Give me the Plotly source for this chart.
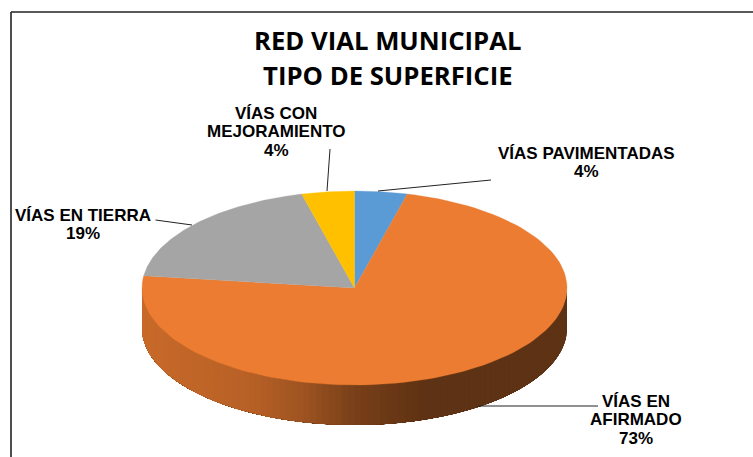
import numpy as np
import plotly.graph_objects as go

categories = ["VÍAS PAVIMENTADAS", "VÍAS EN AFIRMADO", "VÍAS EN TIERRA", "VÍAS CON MEJORAMIENTO"]
label_lines = [["VÍAS PAVIMENTADAS"], ["VÍAS EN", "AFIRMADO"], ["VÍAS EN TIERRA"], ["VÍAS CON", "MEJORAMIENTO"]]
values = [4, 73, 19, 4]
colors = ["#5B9BD5", "#EB7C31", "#A5A5A5", "#FFC000"]
title_lines = ["RED VIAL MUNICIPAL", "TIPO DE SUPERFICIE"]

W, H = 753, 457
CX, CY, RX, RY, DEPTH = 354.5, 288, 212.5, 97, 40
label_pos = [(586, 153), (636, 401), (83, 215), (276, 113)]
LINE_STEP = 18.7
leaders = [((378, 191), (491, 180)), ((478, 406), (598, 406)),
           ((155.5, 220), (192, 225)), ((327, 191), (330, 149))]

total = sum(values)
edges = np.concatenate([[0], np.cumsum(values)]) / total * 2 * np.pi


def ex(t):
    return CX + RX * np.sin(t)


def ey(t):
    return CY - RY * np.cos(t)


def rgb(h):
    return np.array([int(h[i:i + 2], 16) for i in (1, 3, 5)], float)


def shade(x):
    return np.interp(x, [142, 250, 300, 355, 425, 567], [0.85, 0.78, 0.68, 0.51, 0.40, 0.40])


fig = go.Figure()

# side wall: the visible front half of the disc, strips painted from the right end to the
# left end, each one reaching all the way to the left end so that no seams can show
for i, c in enumerate(colors):
    a, b = max(edges[i], np.pi / 2), min(edges[i + 1], 3 * np.pi / 2)
    if b <= a:
        continue
    n = max(2, int((b - a) / 0.03))
    ts = np.linspace(a, b, n + 1)
    for t0 in ts[:-1]:
        arc = np.linspace(t0, b, 80)
        mid = t0 + (ts[1] - ts[0]) / 2
        col = rgb(c) * shade(ex(mid))
        css = f"rgb({col[0]:.0f},{col[1]:.0f},{col[2]:.0f})"
        fig.add_trace(go.Scatter(
            x=np.r_[ex(arc), ex(arc)[::-1], ex(arc[0])],
            y=np.r_[ey(arc), (ey(arc) + DEPTH)[::-1], ey(arc[0])],
            mode="lines", fill="toself", fillcolor=css,
            line=dict(color=css, width=0), hoverinfo="skip", showlegend=False))

# top face
for i, c in enumerate(colors):
    ts = np.linspace(edges[i], edges[i + 1], 120)
    fig.add_trace(go.Scatter(
        x=np.r_[CX, ex(ts), CX], y=np.r_[CY, ey(ts), CY],
        mode="lines", fill="toself", fillcolor=c,
        line=dict(color=c, width=0.3), name=categories[i],
        hoverinfo="name", showlegend=False))

# leader lines
for (p, q) in leaders:
    fig.add_trace(go.Scatter(x=[p[0], q[0]], y=[p[1], q[1]], mode="lines",
                             line=dict(color="#222222", width=1),
                             hoverinfo="skip", showlegend=False))

annotations = []
for lines, v, (x, y) in zip(label_lines, values, label_pos):
    for k, line in enumerate(lines + [f"{round(v / total * 100)}%"]):
        annotations.append(dict(
            x=x, y=y + k * LINE_STEP, xref="x", yref="y", xanchor="center", yanchor="middle",
            showarrow=False, text=f"<b>{line}</b>",
            font=dict(family="Liberation Sans", size=17, color="#000000")))
for line, y in zip(title_lines, [40, 75]):
    annotations.append(dict(
        x=387.5, y=y, xref="x", yref="y", xanchor="center", yanchor="middle", showarrow=False,
        text=f"<b>{line}</b>", font=dict(family="Open Sans", size=25.7, color="#000000")))

frame = dict(type="line", xref="x", yref="y", line=dict(color="#222222", width=1.6))
fig.update_layout(
    width=W, height=H, margin=dict(l=0, r=0, t=0, b=0),
    paper_bgcolor="white", plot_bgcolor="white", showlegend=False,
    xaxis=dict(range=[0, W], visible=False, fixedrange=True),
    yaxis=dict(range=[H, 0], visible=False, fixedrange=True),
    annotations=annotations,
    shapes=[dict(frame, x0=11, x1=11, y0=12, y1=H), dict(frame, x0=11, x1=W, y0=12, y1=12)],
)
fig.write_html("out.html", config=dict(displayModeBar=False),
               post_script="document.body.style.margin='0';document.body.style.overflow='hidden';")
